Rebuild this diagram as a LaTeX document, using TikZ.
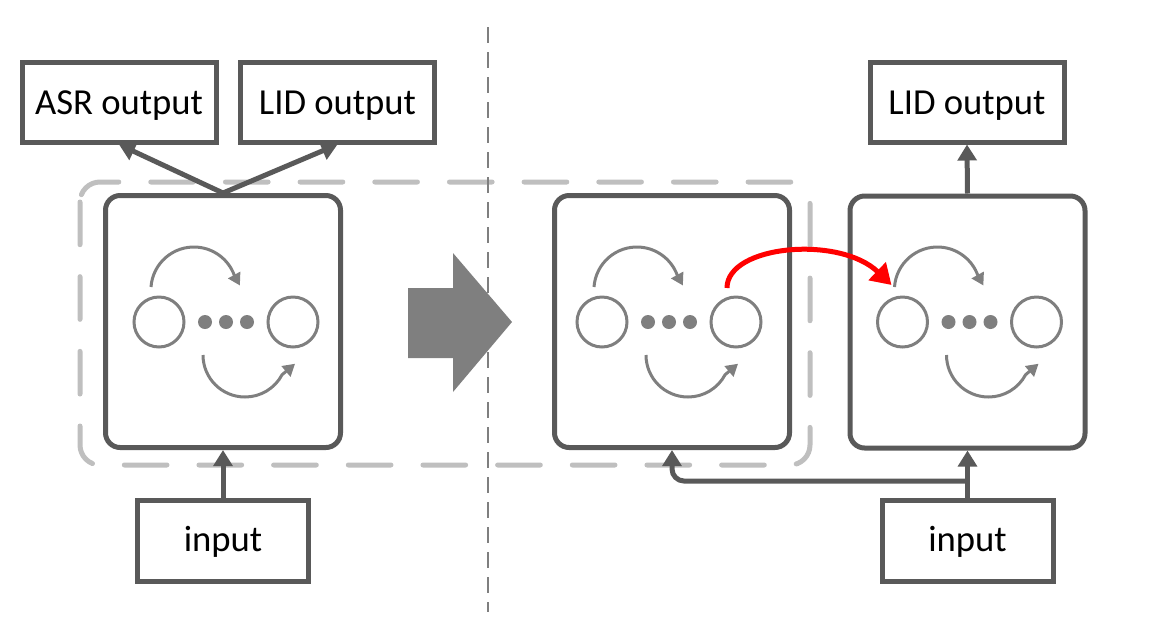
\documentclass[tikz,border=0pt]{standalone}
\usepackage{fontspec}
\setmainfont{Carlito}
\usetikzlibrary{arrows.meta,calc}
\definecolor{dk}{HTML}{595959}
\definecolor{md}{HTML}{7F7F7F}
\definecolor{lt}{HTML}{BFBFBF}
\tikzset{
  bigbox/.style={draw=dk,line width=3.75pt,rounded corners=11pt,minimum width=176.25pt,minimum height=189pt,inner sep=0pt},
  txtbox/.style={draw=dk,line width=3.75pt,minimum width=145.5pt,minimum height=60pt,inner sep=0pt,text height=18pt,text depth=0pt,font=\fontsize{27.5}{33}\selectfont},
  inbox/.style={txtbox,minimum width=128.25pt,minimum height=60.75pt,text height=16pt},
  darr/.style={draw=dk,line width=3.75pt,-{Triangle[length=12pt,width=14pt]}},
  circ/.style={circle,draw=md,line width=2.25pt,minimum size=37.5pt,inner sep=0pt},
  innerarr/.style={draw=md,line width=2.25pt,-{Triangle[length=9pt,width=10pt]}},
  redarr/.style={draw=red,line width=3.75pt,-{Triangle[length=15pt,width=18pt]}},
  dashbox/.style={draw=lt,line width=3.75pt,line cap=round,dash pattern=on 32pt off 24pt,rounded corners=15pt},
  vdash/.style={draw=md,line width=1.5pt,dash pattern=on 12pt off 6.75pt},
  rnn/.pic={
    \node[circ] (-l) at (-67,0) {};
    \node[circ] (-r) at (67,0) {};
    \foreach \dx in {-21,0,21} \fill[md] (\dx,0) circle (7);
    \draw[innerarr] (-75,35) arc[start angle=176,end angle=20,radius=43] -- ++(5.6,-10.2);
    \draw[innerarr] (-23,-33) arc[start angle=180,end angle=332,radius=42] -- ++(13,11);
  }
}
\begin{document}
\begin{tikzpicture}[x=0.75pt,y=0.75pt]
\useasboundingbox (0,0) rectangle (1154,-619);
% dashed grouping box
\draw[dashbox] (80,-182) rectangle (810,-465);
% big boxes
\node[bigbox] (L) at (223,-321.5) {};
\node[bigbox] (M) at (672,-321.5) {};
\node[bigbox] (R) at (967.5,-322) {};
\pic (l) at (226,-322) {rnn};
\pic (m) at (669,-322) {rnn};
\pic (r) at (969.5,-322) {rnn};
% text boxes
\node[txtbox] (asr) at (119,-102) {ASR output};
\node[txtbox] (lidl) at (337.5,-102) {LID output};
\node[txtbox] (lidr) at (967,-102) {LID output};
\node[inbox] (inl) at (223,-541) {input};
\node[inbox] (inr) at (967.5,-541) {input};
% connectors
\draw[darr] (L.north) -- (asr.south);
\draw[darr] (L.north) -- (lidl.south);
\draw[darr] (inl.north) -- (L.south);
\draw[darr] (R.north) -- (lidr.south);
\draw[darr] (inr.north) -- (R.south);
\coordinate (br) at ($(inr.north)+(0,17)$);
\draw[darr,rounded corners=9pt] (br) -| (M.south);
% red transfer arrow
\draw[redarr] ($(m-r)+(-9,34)$) .. controls ($(m-r)+(-9,77)$) and ($(r-l)+(-63,87)$) .. ($(r-l)+(-11,37)$);
% big block arrow
\fill[md] (408,-288) -- (453,-288) -- (453,-253) -- (512,-322) -- (453,-392) -- (453,-358) -- (408,-358) -- cycle;
% vertical divider
\draw[vdash] (488,-27) -- (488,-612);
\end{tikzpicture}
\end{document}
